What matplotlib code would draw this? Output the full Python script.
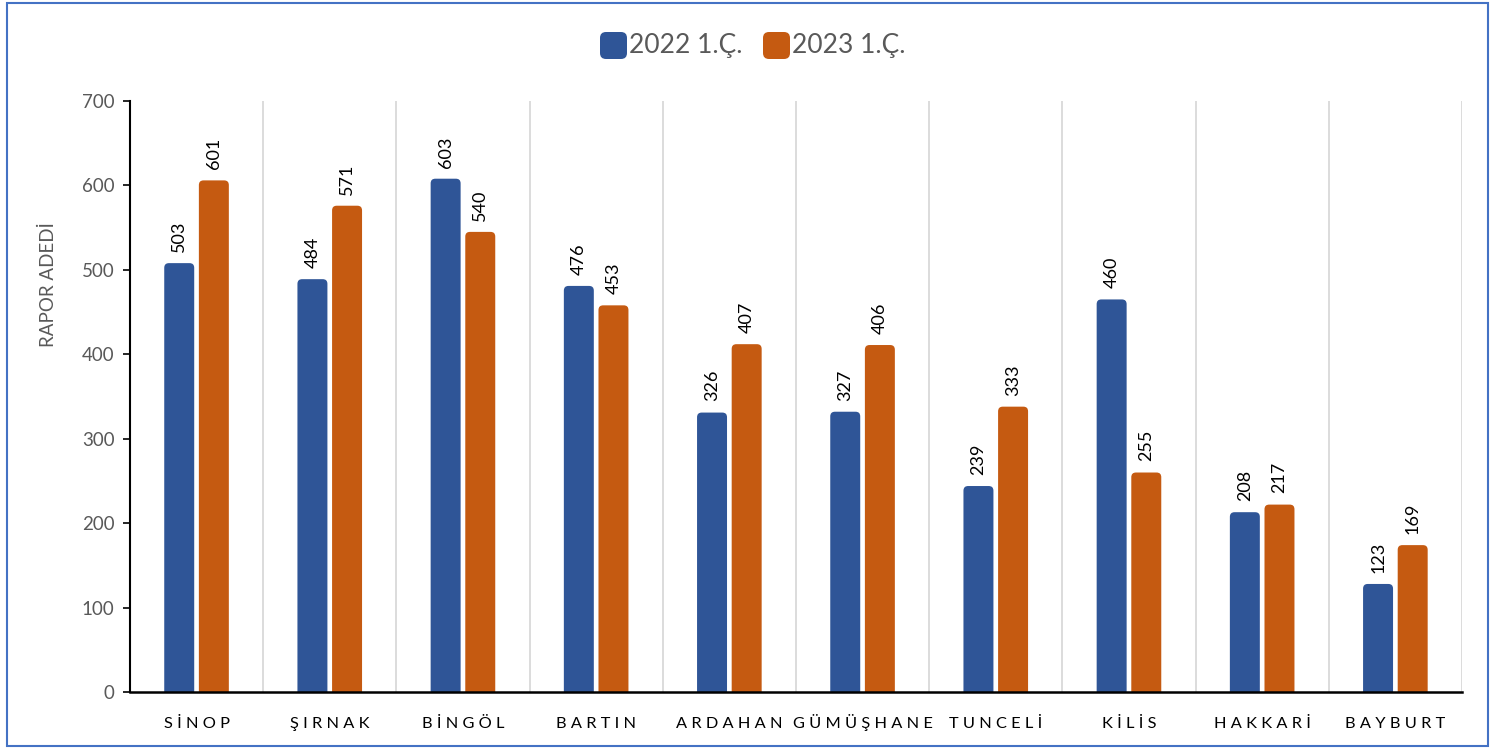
import matplotlib
matplotlib.use("Agg")
import matplotlib.pyplot as plt
from matplotlib.patches import FancyBboxPatch, Rectangle

plt.rcParams['font.family'] = ['Lato', 'DejaVu Sans']

provinces = ['SİNOP', 'ŞIRNAK', 'BİNGÖL', 'BARTIN', 'ARDAHAN',
             'GÜMÜŞHANE', 'TUNCELİ', 'KİLİS', 'HAKKARİ', 'BAYBURT']
q1_2022 = [503, 484, 603, 476, 326, 327, 239, 460, 208, 123]
q1_2023 = [601, 571, 540, 453, 407, 406, 333, 255, 217, 169]
series_names = ['2022 1.Ç.', '2023 1.Ç.']

blue = '#2F5597'
orange = '#C55A11'
gray_text = '#595959'

fig = plt.figure(figsize=(14.97, 7.5), dpi=100)
ax = fig.add_axes([0.0868, 0.0773, 0.8898, 0.788])

x = list(range(len(provinces)))
w = 0.225
off = 0.13

b1 = ax.bar([i - off for i in x], q1_2022, width=w, color=blue, label=series_names[0])
b2 = ax.bar([i + off for i in x], q1_2023, width=w, color=orange, label=series_names[1])

ax.set_xlim(-0.5, len(provinces) - 0.5)
ax.set_ylim(0, 700)

# rounded tops: replace plain bars with rounded boxes
ax_w_px = 0.8898 * 1497
ax_h_px = 0.788 * 750
aspect = (700 / ax_h_px) / (len(provinces) / ax_w_px)
for bars in (b1, b2):
    for r in bars:
        r.set_visible(False)
        p = FancyBboxPatch((r.get_x(), -20), r.get_width(), r.get_height() + 20 + 5,
                           boxstyle="round,pad=0,rounding_size=0.035",
                           mutation_aspect=aspect, facecolor=r.get_facecolor(),
                           edgecolor='none', zorder=2)
        ax.add_patch(p)

for bars, vals in ((b1, q1_2022), (b2, q1_2023)):
    for r, v in zip(bars, vals):
        ax.annotate(str(v), (r.get_x() + r.get_width() / 2, v + 5),
                    xytext=(0, 8), textcoords='offset points',
                    rotation=90, ha='center', va='bottom', fontsize=13, color='black')

for i in range(len(provinces)):
    ax.axvline(i + 0.5, color='#D9D9D9', lw=1.3, zorder=0)

ax.set_xticks(x)
ax.set_xticklabels([' '.join(p) for p in provinces], fontsize=11.8, color='black')
ax.tick_params(axis='x', length=0, pad=26)
for t in ax.get_xticklabels():
    t.set_va('baseline')
ax.set_yticks(range(0, 701, 100))
ax.tick_params(axis='y', direction='out', length=5, width=1.2, colors='black',
               labelcolor=gray_text, labelsize=13.5, pad=6)
ax.set_ylabel('RAPOR ADEDİ', fontsize=13.5, color=gray_text)
ax.yaxis.set_label_coords(-0.055, 0.689)

for s in ('top', 'right'):
    ax.spines[s].set_visible(False)
ax.spines['left'].set_linewidth(1.5)
ax.spines['bottom'].set_linewidth(1.8)
ax.spines['bottom'].set_zorder(3)

# legend drawn by hand so the keys can have rounded corners
key_x = [600 / 1497, 763 / 1497]
key_w = 27 / 1497
key_h = 27 / 750
key_y = 1 - 59 / 750
for kx, name, col in zip(key_x, series_names, (blue, orange)):
    fig.patches.append(FancyBboxPatch((kx, key_y), key_w, key_h, transform=fig.transFigure,
                                      boxstyle="round,pad=0,rounding_size=0.004",
                                      mutation_aspect=1497 / 750,
                                      facecolor=col, edgecolor='none'))
    fig.text(kx + key_w + 2 / 1497, key_y + key_h / 2, name, fontsize=19,
             color=gray_text, ha='left', va='center')

fig.patches.append(Rectangle((0.005, 0.006), 0.989, 0.99, transform=fig.transFigure,
                             fill=False, edgecolor='#4472C4', lw=1.5))

fig.savefig('out.png', dpi=100)
